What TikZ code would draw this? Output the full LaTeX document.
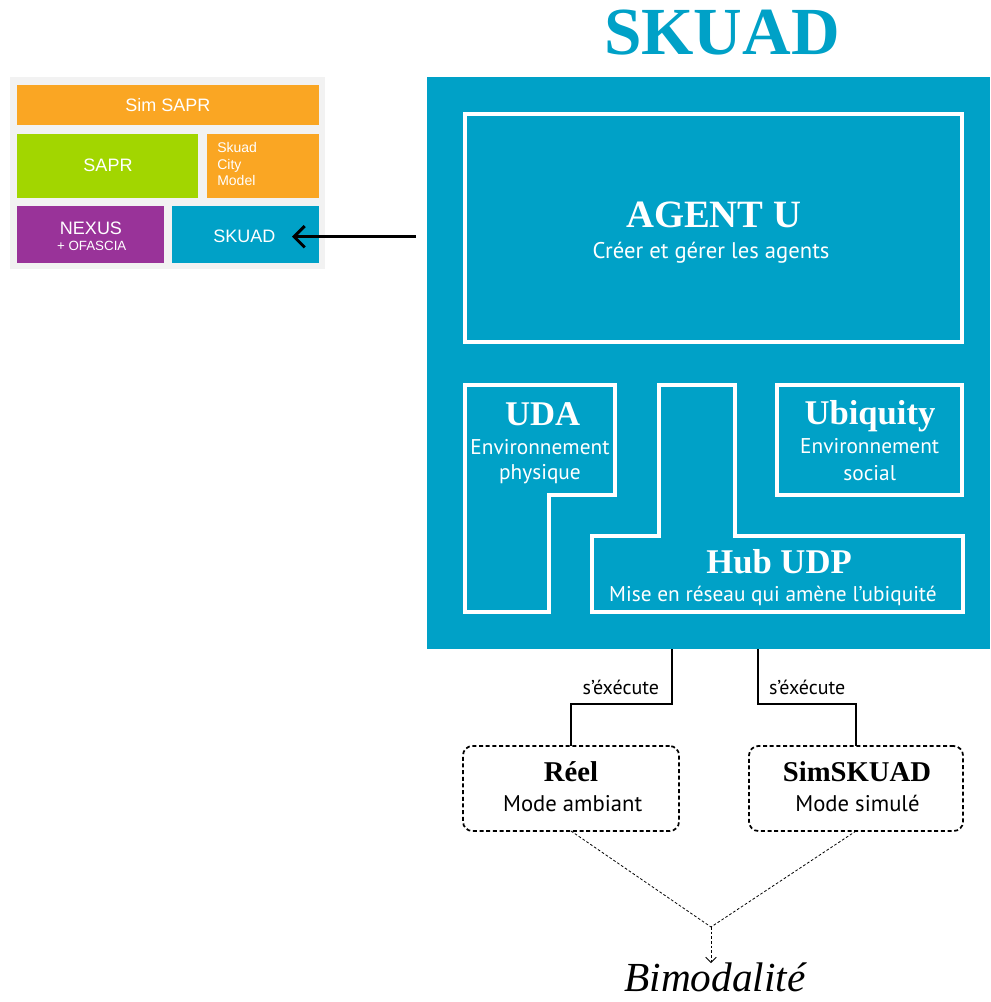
\documentclass[tikz,border=0pt]{standalone}
\usepackage{fontspec}
\setmainfont{Liberation Serif}
\newfontfamily\myr{PT Sans}
\newfontfamily\arialf{Liberation Sans}
\usetikzlibrary{fit,arrows.meta,calc}
\definecolor{skblue}{RGB}{0,161,199}
\definecolor{skorange}{RGB}{250,166,35}
\definecolor{skgreen}{RGB}{162,214,0}
\definecolor{skpurple}{RGB}{153,51,153}
\definecolor{skgray}{RGB}{242,242,242}
\begin{document}
\begin{tikzpicture}[x=0.75pt,y=-0.75pt,
  tile/.style={inner sep=0pt,outer sep=0pt},
  wline/.style={draw=white,line width=3pt},
  txt/.style={inner sep=0pt,outer sep=0pt,anchor=base},
  head/.style={txt,font=\bfseries\fontsize{26}{28}\selectfont,text=white},
  sub/.style={txt,font=\myr\fontsize{16}{18}\selectfont,text=white},
  ptxt/.style={txt,font=\arialf\fontsize{13.5}{15}\selectfont,text=white},
  modebox/.style={tile,draw=black,line width=1.3pt,dash pattern=on 3pt off 2pt,rounded corners=7pt},
  conn/.style={draw=black,line width=0.8pt},
  dotl/.style={draw=black,line width=0.6pt,dash pattern=on 2pt off 1.5pt},
  bhead/.style={txt,font=\bfseries\fontsize{21.5}{24}\selectfont,text=black},
  bsub/.style={txt,font=\myr\fontsize{17}{19}\selectfont,text=black},
  lbl/.style={txt,font=\myr\fontsize{15}{17}\selectfont,text=black}]
\useasboundingbox (0,0) rectangle (990,1002);

% ---- left panel ----
\node[tile,fill=skgray,fit={(10,77)(325,269)}] (panel) {};
\node[tile,fill=skorange,fit={(17,85)(319,125)}] (simsapr) {};
\node[tile,fill=skgreen,fit={(17,134)(198,198)}] (sapr) {};
\node[tile,fill=skorange,fit={(207,134)(319,198)}] (city) {};
\node[tile,fill=skpurple,fit={(17,206)(164,263)}] (nexus) {};
\node[tile,fill=skblue,fit={(172,206)(319,263)}] (sksmall) {};
\node[ptxt] (tsimsapr) at (168,111.7) {Sim SAPR};
\node[ptxt] (tsapr) at (108,171.7) {SAPR};
\node[ptxt,font=\arialf\fontsize{10.5}{12.4}\selectfont,anchor=base west,align=left] (tcity) at (217.3,185.7) {Skuad\\City\\Model};
\node[ptxt] (tnexus) at (91,234) {NEXUS};
\node[ptxt,font=\arialf\fontsize{10}{12}\selectfont] (tofascia) at (91.7,250) {+ OFASCIA};
\node[ptxt] (tsksmall) at (244.3,242.7) {SKUAD};

% ---- title ----
\node[txt,font=\bfseries\fontsize{50.5}{52}\selectfont,text=skblue] (title) at (722,55) {SKUAD};

% ---- main block ----
\node[tile,fill=skblue,fit={(427,77)(990,649)}] (skuad) {};
\node[tile,wline,fit={(465,114)(962,342)}] (agent) {};
\node[head,font=\bfseries\fontsize{29}{31}\selectfont] (tagent) at (713.7,227.3) {AGENT U};
\node[sub,font=\myr\fontsize{17}{19}\selectfont] (sagent) at (711,258.3) {Créer et gérer les agents};

\draw[wline] (465,385) -- (615,385) -- (615,495) -- (549,495) -- (549,612) -- (465,612) -- cycle;
\node[head] (tuda) at (542.7,425) {UDA};
\node[sub] (suda1) at (540,454) {Environnement};
\node[sub] (suda2) at (540,479) {physique};

\node[tile,wline,fit={(777,385)(962,495)}] (ubi) {};
\node[head] (tubi) at (870,424.3) {Ubiquity};
\node[sub] (subi1) at (869.7,453.3) {Environnement};
\node[sub] (subi2) at (869.7,480) {social};

\draw[wline] (659,385) -- (735,385) -- (735,536) -- (963,536) -- (963,612) -- (592,612) -- (592,536) -- (659,536) -- cycle;
\node[head] (thub) at (779,573.3) {Hub UDP};
\node[sub] (shub) at (773,601.7) {Mise en réseau qui amène l’ubiquité};

% ---- arrow to small SKUAD ----
\coordinate (arrstart) at (416,236.7);
\coordinate (arrend) at (292,236.7);
\draw[line width=2.2pt,-{Straight Barb[length=8pt,width=16pt,line width=2.2pt]}] (arrstart) -- (arrend);

% ---- modes ----
\node[modebox,fit={(463,746)(679,831)}] (reel) {};
\node[modebox,fit={(749,746)(963,831)}] (simsk) {};
\node[bhead] (treel) at (571,781.7) {Réel};
\node[bsub] (sreel) at (572.7,811.7) {Mode ambiant};
\node[bhead] (tsimsk) at (857,781.7) {SimSKUAD};
\node[bsub] (ssimsk) at (857.5,811.7) {Mode simulé};

\coordinate (e1) at (672,649);
\coordinate (e2) at (758,649);
\draw[conn] (e1) -- (672,704) -| (reel.north);
\draw[conn] (e2) -- (758,704) -| (simsk.north);
\node[lbl,anchor=base east] (l1) at (659,694) {s’éxécute};
\node[lbl,anchor=base west] (l2) at (769,694) {s’éxécute};

% ---- bimodality ----
\coordinate (meet) at (711,927);
\node[txt,font=\itshape\fontsize{31}{33}\selectfont,text=black] (bim) at (715,991) {Bimodalité};
\draw[dotl] (reel.south) -- (meet);
\draw[dotl] (simsk.south) -- (meet);
\draw[dotl,-{Straight Barb[length=4pt,width=8pt,line width=0.6pt]}] (meet) -- (711,963);
\end{tikzpicture}
\end{document}
